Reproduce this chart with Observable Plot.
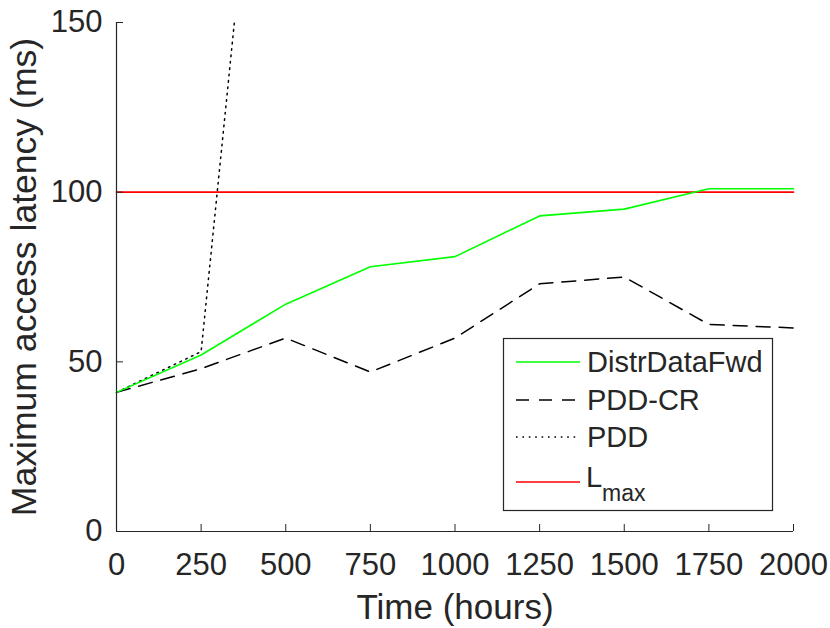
<!DOCTYPE html>
<html><head><meta charset="utf-8">
<script src="https://cdn.jsdelivr.net/npm/d3@7"></script>
<script src="https://cdn.jsdelivr.net/npm/@observablehq/plot@0.6"></script>
<style>
body{margin:0;background:#fff}
#chart{position:relative;width:830px;height:628px}
</style>
</head><body><div id="chart"></div>
<script>
const hours = [0, 250, 500, 750, 1000, 1250, 1500, 1750, 2000];
const distrDataFwd = [41, 52, 67, 78, 81, 93, 95, 101, 101];
const pddCR = [41, 48, 57, 47, 57, 73, 75, 61, 60];
const pddHours = [0, 250, 500];
const pdd = [41, 53, 300];
const lmaxHours = [0, 2000];
const lmax = [100, 100];
const xTicks = [0, 250, 500, 750, 1000, 1250, 1500, 1750, 2000];
const yTicks = [0, 50, 100, 150];
const seriesNames = ["DistrDataFwd", "PDD-CR", "PDD", "L"];

const toRows = (xs, ys) => xs.map((x, i) => ({x, y: ys[i]}));
const ink = "#262626";
const font = "'Liberation Sans', Arial, Helvetica, sans-serif";

const plot = Plot.plot({
  width: 830, height: 628,
  marginLeft: 116, marginRight: 37, marginTop: 22, marginBottom: 97,
  style: {fontFamily: font, color: ink, background: "#fff", overflow: "visible"},
  x: {domain: [0, 2000]},
  y: {domain: [0, 150]},
  marks: [
    Plot.line(toRows(lmaxHours, lmax), {x: "x", y: "y", stroke: "#ff0000", strokeWidth: 1.6}),
    Plot.line(toRows(pddHours, pdd), {x: "x", y: "y", stroke: "#000", strokeWidth: 1.5, strokeDasharray: "1.6,4.8", clip: true}),
    Plot.line(toRows(hours, pddCR), {x: "x", y: "y", stroke: "#000", strokeWidth: 1.5, strokeDasharray: "14,9"}),
    Plot.line(toRows(hours, distrDataFwd), {x: "x", y: "y", stroke: "#00ff00", strokeWidth: 1.6}),
    Plot.ruleY([0], {stroke: ink, strokeWidth: 1.2}),
    Plot.ruleX([0], {stroke: ink, strokeWidth: 1.2}),
    Plot.axisX({ticks: xTicks, tickSize: -7, tickPadding: 28, fontSize: 31, label: null, tickFormat: d => String(d)}),
    Plot.axisY({ticks: yTicks, tickSize: -7, tickPadding: 21, fontSize: 31, label: null, tickFormat: d => String(d)}),
    Plot.text(["Time (hours)"], {frameAnchor: "bottom", dy: 76, fontSize: 35, lineAnchor: "middle", textAnchor: "middle", fill: ink}),
    Plot.text(["Maximum access latency (ms)"], {frameAnchor: "left", dx: -92, rotate: -90, fontSize: 35.6, lineAnchor: "middle", textAnchor: "middle", fill: ink})
  ]
});
document.getElementById("chart").appendChild(plot);

// legend
const svg = d3.select(plot);
const lg = svg.append("g").attr("font-family", font).attr("fill", ink).attr("text-anchor", "start");
lg.append("rect").attr("x", 503.5).attr("y", 338.5).attr("width", 269).attr("height", 172)
  .attr("fill", "#fff").attr("stroke", ink).attr("stroke-width", 1.2);
const rows = [
  {name: seriesNames[0], y: 362, stroke: "#00ff00", dash: null},
  {name: seriesNames[1], y: 400, stroke: "#000", dash: "13,10"},
  {name: seriesNames[2], y: 437, stroke: "#000", dash: "1.6,4.8"},
  {name: seriesNames[3], y: 482, stroke: "#ff0000", dash: null}
];
rows.forEach((r, i) => {
  lg.append("line").attr("x1", 516).attr("x2", 580).attr("y1", r.y).attr("y2", r.y)
    .attr("stroke", r.stroke).attr("stroke-width", 1.5).attr("stroke-dasharray", r.dash);
  if (i < 3) {
    lg.append("text").attr("x", 587).attr("y", r.y + 10).attr("font-size", 29).text(r.name);
  } else {
    lg.append("text").attr("x", 586).attr("y", 487).attr("font-size", 29).text(r.name);
    lg.append("text").attr("x", 602).attr("y", 501).attr("font-size", 23).text("max");
  }
});
</script>
</body></html>
